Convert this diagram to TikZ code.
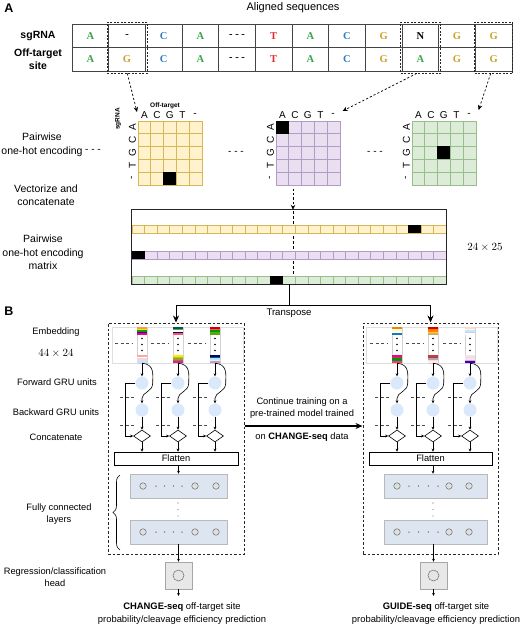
\documentclass[tikz,border=0pt]{standalone}
\usepackage{fontspec}
\setmainfont{Liberation Sans}
\newfontfamily\serifbf{Liberation Serif}
\usetikzlibrary{arrows.meta,decorations.pathreplacing,calc,shapes.geometric}
\definecolor{cA}{HTML}{3AA34A}
\definecolor{cC}{HTML}{2F7DC0}
\definecolor{cG}{HTML}{C9A227}
\definecolor{cT}{HTML}{E02B2B}
\definecolor{yfill}{HTML}{FFF2CC}\definecolor{ydraw}{HTML}{D6B656}
\definecolor{pfill}{HTML}{EADFF0}\definecolor{pdraw}{HTML}{B29BC4}
\definecolor{gfill}{HTML}{DDEBD9}\definecolor{gdraw}{HTML}{97BF8A}
\definecolor{grufill}{HTML}{DAE8FC}
\definecolor{fcfill}{HTML}{DDE6F0}
\definecolor{tabline}{HTML}{444444}

\newcommand\onehot[6]{% name, x0, fill, draw, black col, black row
  \node[draw=#4, fill=#3, minimum size=63.5pt, inner sep=0, anchor=north west, line width=0.6pt] (#1) at (#2,121) {};
  \foreach \k in {1,...,4} {
    \draw[#4, line width=0.5pt] (#2+\k*12.7,121) -- (#2+\k*12.7,184.5);
    \draw[#4, line width=0.5pt] (#2,121+\k*12.7) -- (#2+63.5,121+\k*12.7);
  }
  \fill[black] (#2+#5*12.7,121+#6*12.7) rectangle ++(12.7,12.7);
  \foreach \l [count=\j from 0] in {A,C,G,T,-} {
    \node[gl] (#1c\j) at (#2+6.35+\j*12.7,115) {\l};
    \node[gl, rotate=90] (#1r\j) at (#2-5.5,127.35+\j*12.7) {\l};
  }
}
\newcommand\mrow[4]{% y, fill, draw, black idx
  \foreach \k in {0,...,24} {\draw[draw=#3, fill=#2, line width=0.5pt] (132+\k*12.56,#1) rectangle ++(12.56,8);}
  \fill[black] (132+#4*12.56,#1) rectangle ++(12.56,8);
}
\newcommand\embcolumn[4]{% name, x, top colours, bottom colours
  \node[embc] (#1) at (#2,345) {};
  \foreach \cc [count=\i] in {#3} {\fill[fill=\cc] (#2-5,325.4+\i*1.6) rectangle ++(10,1.6);}
  \foreach \cc [count=\i] in {#4} {\fill[fill=\cc] (#2-5,353.4+\i*1.6) rectangle ++(10,1.6);}
  \foreach \dy in {338.5,344.5,350.5} {\fill[black] (#2,\dy) circle (0.9);}
  \draw[dsh] (#2-27,343) -- (#2-10,343);
}
\newcommand\grucol[3]{% prefix, x, flatten node
  \node[gru] (#1f) at (#2,383) {};
  \node[gru] (#1b) at (#2,410) {};
  \draw[dsh] (#2-22,397) -- (#2-7,397);
  \draw[dsh] (#2-22,425) -- (#2-7,425);
  \node[dia] (#1c) at (#2,436) {};
  \draw[arr] (#1e.south) -- (#1f.north);
  \draw[arr] (#1e.south) .. controls +(13,1) and +(0,-8) .. ($(#1f.east)+(4,0)$) .. controls +(0,9) and +(0,-6) .. ($(#1b.north)+(0,-5)$) -- (#1b.north);
  \draw[arr] (#1f.west) -- ++(-10.5,0) |- (#1c.west);
  \draw[arr] (#1b.south) -- (#1c.north);
  \draw[arr] (#1c.south) -- (#1c.south |- #3.north);
}

\begin{document}
\begin{tikzpicture}[x=1pt,y=-1pt,
  lbl/.style={font=\fontsize{10.5}{13.5}\selectfont, align=center, inner sep=0},
  blbl/.style={font=\fontsize{9.3}{12}\selectfont, align=center, inner sep=0},
  panel/.style={font=\bfseries\fontsize{12.5}{14}\selectfont, inner sep=0},
  seq/.style={font=\serifbf\bfseries\fontsize{10.5}{12}\selectfont, inner sep=0},
  rowlbl/.style={font=\bfseries\fontsize{10.5}{12.5}\selectfont, align=center, inner sep=0},
  gl/.style={font=\fontsize{10}{12}\selectfont, inner sep=0},
  tiny/.style={font=\bfseries\fontsize{6.5}{8}\selectfont, inner sep=0},
  dbox/.style={draw=black!85, dash pattern=on 2pt off 1.5pt, line width=0.9pt, inner sep=0},
  bigbox/.style={draw=black!85, dash pattern=on 2.5pt off 2pt, line width=1pt, inner sep=0},
  darr/.style={draw=black, dash pattern=on 2.2pt off 2pt, line width=0.7pt, -{Stealth[length=5pt,width=4.5pt]}},
  dsh/.style={draw=black!70, dash pattern=on 3pt off 2.5pt, line width=0.8pt},
  arr/.style={-{Stealth[length=3pt,width=2.8pt]}, line width=0.6pt},
  tarr/.style={-{Stealth[length=7pt,width=6pt]}, line width=0.8pt},
  gru/.style={circle, fill=grufill, minimum size=13pt, inner sep=0},
  dia/.style={diamond, draw, fill=white, minimum width=17pt, minimum height=12pt, inner sep=0, line width=0.6pt},
  flat/.style={draw, line width=0.7pt, minimum height=13pt, inner sep=0, font=\fontsize{9.3}{11}\selectfont},
  fcbox/.style={draw=gray!55, fill=fcfill, minimum height=24pt, inner sep=0, line width=0.5pt},
  neuron/.style={circle, draw=gray!85!black, fill=gray!25, minimum size=6.5pt, inner sep=0, line width=0.5pt},
  embc/.style={draw=gray!35, fill=white, minimum width=10pt, minimum height=36pt, inner sep=0, line width=0.4pt},
  headbox/.style={draw=gray!70, fill=gray!18, minimum size=27pt, inner sep=0, line width=0.5pt}
]
\useasboundingbox (0,0) rectangle (520,627);

% ---------------- Panel A ----------------
\node[panel] (labA) at (9,8) {A};
\node[lbl, font=\fontsize{11}{13}\selectfont] (aligned) at (293,8) {Aligned sequences};

\node[draw=tabline, minimum width=440pt, minimum height=47pt, inner sep=0, line width=0.8pt] (tab) at (292,47.5) {};
\foreach \i in {1,...,11} {\draw[tabline, line width=0.8pt] (72+\i*36.667,24) -- (72+\i*36.667,71);}
\draw[tabline, line width=0.8pt] (tab.west) -- (tab.east);

\foreach \t/\c [count=\i] in {A/cA,-/black,C/cC,A/cA,{- - -}/black,T/cT,A/cA,C/cC,G/cG,N/black,G/cG,G/cG}
  {\node[seq, text=\c] (s\i) at (72+\i*36.667-18.33,36) {\t};}
\foreach \t/\c [count=\i] in {A/cA,G/cG,C/cC,A/cA,{- - -}/black,T/cT,A/cA,C/cC,G/cG,A/cA,G/cG,G/cG}
  {\node[seq, text=\c] (o\i) at (72+\i*36.667-18.33,59.5) {\t};}

\node[rowlbl] (lsg) at (38,36) {sgRNA};
\node[rowlbl] (lot) at (38,59) {Off-target\\site};

\node[dbox, minimum width=40pt, minimum height=51pt] (db1) at (127.3,47.5) {};
\node[dbox, minimum width=40pt, minimum height=51pt] (db2) at (420.7,47.5) {};
\node[dbox, minimum width=38pt, minimum height=51pt] (db3) at (493.7,47.5) {};

\onehot{g1}{138}{yfill}{ydraw}{2}{4}
\onehot{g2}{276}{pfill}{pdraw}{0}{0}
\onehot{g3}{412}{gfill}{gdraw}{2}{2}

\node[tiny] (offt) at (165,106) {Off-target};
\node[tiny, rotate=90] (sgt) at (118,119) {sgRNA};

\draw[darr] (db1.south) -- ($(g1.north west)+(-1,-9)$);
\draw[darr] ($(db2.south)+(-4,0)$) -- ($(g2.north east)+(2.5,-10)$);
\draw[darr] ($(db3.south)+(-3,0)$) -- ($(g3.north east)+(2.5,-11)$);

\node[lbl] (pw) at (42,145) {Pairwise\\one-hot encoding};
\node[gl] (d1) at (93,151) {- - -};
\node[gl] (d2) at (236,153) {- - -};
\node[gl] (d3) at (375,153) {- - -};
\node[lbl] (vec) at (46,195) {Vectorize and\\concatenate};

% matrix
\node[minimum width=314pt, minimum height=74pt, inner sep=0] (mat) at (289,247) {};
\draw[dsh, draw=black, dash pattern=on 2.5pt off 2.5pt] (293,211) -- (293,275);
\mrow{225}{yfill}{ydraw}{22}
\mrow{251}{pfill}{pdraw}{0}
\mrow{276}{gfill}{gdraw}{11}
\draw[black!85, line width=0.8pt] (mat.north west) rectangle (mat.south east);
\coordinate (vs) at (293,189);
\draw[darr] (vs) -- (vs |- mat.north);
\node[lbl] (pwm) at (43,252.5) {Pairwise\\one-hot encoding\\matrix};
\node[inner sep=0, font=\fontsize{11}{13}\selectfont] (dimA) at (485,247) {$24\times25$};

% ---------------- Panel B ----------------
\node[panel] (labB) at (9,311) {B};
\node[bigbox, minimum width=136pt, minimum height=231pt] (boxL) at (176,438.5) {};
\node[bigbox, minimum width=135pt, minimum height=231pt] (boxR) at (430.5,438.5) {};

\coordinate (tj) at (mat.south |- 0,305);
\draw[line width=0.8pt] (mat.south) -- (tj);
\draw[tarr] (tj) -| (boxL.north);
\draw[tarr] (tj) -| (boxR.north);
\node[blbl, font=\fontsize{9.6}{12}\selectfont] (trl) at (289,313) {Transpose};

\node[draw=gray!25, minimum width=131pt, minimum height=36pt, inner sep=0, line width=0.4pt] (embL) at (177.5,345) {};
\node[draw=gray!25, minimum width=131pt, minimum height=36pt, inner sep=0, line width=0.4pt] (embR) at (431.5,345) {};

\embcolumn{L1e}{142}{orange!60!pink, yellow!60!lime, green!65!black, blue!65!purple, magenta!80!red}{red!35!white, white, pink!70, cyan!25, blue!15}
\embcolumn{L2e}{178}{teal!70!black, green!35!gray, white, blue!55!black, red!55!pink}{yellow!90!orange, yellow!60!green, olive!80, purple!70, magenta!75!black}
\embcolumn{L3e}{215}{red!80!black, red!55!pink, green!60!black, green!50!olive, olive!50!green}{blue!45!black, teal!75!black, cyan!30, cyan!15, blue!20!pink}
\embcolumn{R1e}{397}{orange!80!brown, yellow!15, yellow!25, white, cyan!55!blue}{magenta!85!purple, purple!80, green!60!black, teal, red!75}
\embcolumn{R2e}{433}{red!80!black, orange!90!red, orange, yellow!75!orange, brown!70}{red!60!brown, blue!30!gray, gray!50!pink, pink!60, pink!30}
\embcolumn{R3e}{470}{pink!60, yellow!20, cyan!25, blue!20, white}{pink!50, cyan!25, pink!45, purple!35, blue!70!purple}

\node[flat, minimum width=124pt] (flatL) at (176,458.5) {Flatten};
\node[flat, minimum width=123pt] (flatR) at (430.5,458.5) {Flatten};

\grucol{L1}{142}{flatL}
\grucol{L2}{178}{flatL}
\grucol{L3}{215}{flatL}
\grucol{R1}{397}{flatR}
\grucol{R2}{433}{flatR}
\grucol{R3}{470}{flatR}

% fully connected layers
\foreach \nm/\cy in {fcL1/486, fcL2/532} {
  \node[fcbox, minimum width=97pt] (\nm) at (178.5,\cy) {};
  \foreach \xx [count=\k] in {143,195,216} {\node[neuron] (\nm-\k) at (\xx,\cy) {};}
  \foreach \xx in {156,164.7,173.3,182} {\fill[gray!80!black] (\xx,\cy) circle (0.75);}
}
\foreach \nm/\cy in {fcR1/486, fcR2/532} {
  \node[fcbox, minimum width=103pt] (\nm) at (435.5,\cy) {};
  \foreach \xx [count=\k] in {397,449,469} {\node[neuron] (\nm-\k) at (\xx,\cy) {};}
  \foreach \xx in {409,418.7,428.3,438} {\fill[gray!80!black] (\xx,\cy) circle (0.75);}
}
\fill[red!60!gray] (178,503) circle (0.7);
\fill[gray] (178,509.5) circle (0.7);
\fill[gray] (178,516) circle (0.7);
\fill[red!60!gray] (433,503) circle (0.7);
\fill[gray] (433,509.5) circle (0.7);
\fill[gray] (433,516) circle (0.7);

\draw[arr] (fcL1.north |- flatL.south) -- (fcL1.north);
\draw[arr] (R2c.south |- flatR.south) -- (R2c.south |- fcR1.north);

\draw[decorate, decoration={brace, amplitude=7pt}, line width=0.6pt] (120,550) -- (120,475);

% heads
\node[headbox] (hL) at (178.5,575.5) {};
\node[neuron, minimum size=11pt, fill=gray!20] (hLn) at (hL) {};
\node[headbox] (hR) at (433.5,575.5) {};
\node[neuron, minimum size=11pt, fill=gray!20] (hRn) at (hR) {};
\draw[arr] (fcL2.south -| hL.north) -- (hL.north);
\draw[arr] (fcR2.south -| hR.north) -- (hR.north);
\coordinate (oL) at (178.5,596);
\coordinate (oR) at (433.5,596);
\draw[arr] (hL.south) -- (oL);
\draw[arr] (hR.south) -- (oR);

\node[blbl, font=\fontsize{9.4}{13}\selectfont] (outL) at (182,613.5) {\textbf{CHANGE-seq} off-target site\\probability/cleavage efficiency prediction};
\node[blbl, font=\fontsize{9.4}{13}\selectfont] (outR) at (436,613.5) {\textbf{GUIDE-seq} off-target site\\probability/cleavage efficiency prediction};

% row labels B
\node[blbl] (lemb) at (56,332) {Embedding};
\node[inner sep=0, font=\fontsize{11}{13}\selectfont] (dimB) at (56,353) {$44\times24$};
\node[blbl] (lfw) at (57,382) {Forward GRU units};
\node[blbl] (lbw) at (56,412) {Backward GRU units};
\node[blbl] (lcat) at (56,437) {Concatenate};
\node[blbl] (lfc) at (59,514) {Fully connected\\layers};
\node[blbl] (lhead) at (55,577.5) {Regression/classification\\head};

% transfer arrow
\node[blbl] (ct) at (302,408.5) {Continue training on a\\pre-trained model trained};
\draw[tarr, line width=1.3pt] (boxL.east |- 0,426) -- (boxR.west |- 0,426);
\node[blbl] (ct2) at (302,437) {on \textbf{CHANGE-seq} data};
\end{tikzpicture}
\end{document}
